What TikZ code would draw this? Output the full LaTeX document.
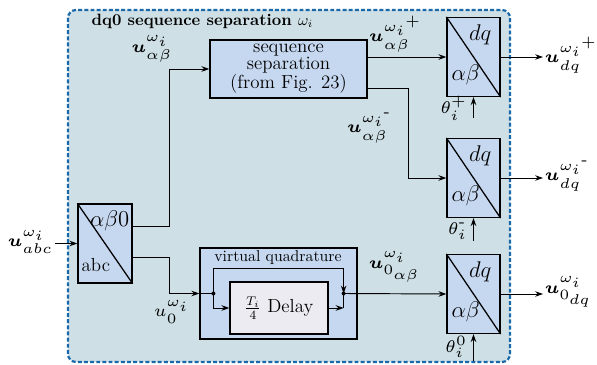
\documentclass[tikz,border=0pt]{standalone}
\usepackage{amsmath}
\usepackage{graphicx}
\usepackage{tikz}
\usepackage{xcolor}
\usetikzlibrary{arrows.meta,calc}
\edef\px{0.0223cm}
\definecolor{framefill}{RGB}{206,224,230}
\definecolor{framedash}{RGB}{25,105,170}
\definecolor{blockfill}{RGB}{198,216,240}
\definecolor{delayfill}{RGB}{236,235,242}
\tikzstyle{block}=[draw,line width=0.8pt,fill=blockfill,inner sep=0pt]
\tikzstyle{sig}=[-{Stealth[length=5pt,width=3.5pt]},line width=0.6pt]
\tikzstyle{corner}=[inner sep=0pt,font=\fontsize{13.5}{15}\selectfont]
\tikzstyle{lbl}=[inner sep=1pt]
% small math blown up, so sub- and superscripts stay large
\newcommand{\sigtxt}[2][1.8]{\scalebox{#1}{\fontsize{6}{7}\selectfont$#2$}}

\begin{document}
\begin{tikzpicture}[x=\px,y=-\px]
		\useasboundingbox (0,0) rectangle (597,365);
		% outer frame
		\draw[framedash,fill=framefill,line width=1.4pt,dash pattern=on 2.5pt off 1.4pt,rounded corners=5pt] (68,10) rectangle (510,362);
		\node[anchor=west,font=\fontsize{10.4}{12}\selectfont\bfseries] (title) at (86,21) {dq0 sequence separation $\omega_i$};

		% clarke block
		\node[block, minimum width=54*\px, minimum height=79*\px] (abc) at (105,243.5) {};
		\draw[line width=0.8pt] (abc.north west) -- (abc.south east);
		\node[corner, anchor=north east] at ($(abc.north east)+(-3,7)$) {$\alpha\beta0$};
		\node[corner, anchor=south west, font=\large] at ($(abc.south west)+(4,-12)$) {abc};

		% sequence separation
		\node[block, minimum width=157*\px, minimum height=58*\px, align=center, font=\fontsize{12}{10.5}\selectfont] (seq) at (288.5,69) {sequence\\separation\\(from Fig. 23)};

		% virtual quadrature with delay
		\node[block, minimum width=157*\px, minimum height=91*\px] (vq) at (278.5,293.5) {};
		\node (vqtext) at (278,258) {virtual quadrature};
		\node[block, fill=delayfill, minimum width=98*\px, minimum height=52*\px, font=\large] (delay) at (279,308) {$\frac{T_i}{4}$ Delay};

		% park blocks
		\foreach \name/\ypos in {dqp/57,dqm/178,dqz/294}{
			\node[block, minimum width=53*\px, minimum height=79*\px] (\name) at (473.5,\ypos) {};
			\draw[line width=0.8pt] (\name.north west) -- (\name.south east);
			\node[corner, anchor=north east] at ($(\name.north east)+(-9,8)$) {$dq$};
			\node[corner, anchor=south west] at ($(\name.south west)+(5,-12)$) {$\alpha\beta$};
		}

		% signal labels
		\node[lbl, anchor=east] (uabc) at (55,242) {\sigtxt{\boldsymbol{u}^{\omega_i}_{abc}}};
		\node[lbl] (uab) at (152,49) {\sigtxt{\boldsymbol{u}^{\omega_i}_{\alpha\beta}}};
		\node[lbl] (uabp) at (396,34) {\sigtxt{\boldsymbol{u}^{{\omega_i}^{+}}_{\alpha\beta}}};
		\node[lbl] (uabm) at (370,128) {\sigtxt{\boldsymbol{u}^{{\omega_i}^{\text{-}}}_{\alpha\beta}}};
		\node[lbl] (uabz) at (395,267) {\sigtxt{\boldsymbol{u}^{\omega_i}_{0_{\alpha\beta}}}};
		\node[lbl] (uz) at (172,312) {\sigtxt{u^{\omega_i}_{0}}};
		\node[lbl, anchor=west] (udqp) at (543,55) {\sigtxt{\boldsymbol{u}^{{\omega_i}^{+}}_{dq}}};
		\node[lbl, anchor=west] (udqm) at (543,176) {\sigtxt{\boldsymbol{u}^{{\omega_i}^{\text{-}}}_{dq}}};
		\node[lbl, anchor=west] (udqz) at (543,292) {\sigtxt{\boldsymbol{u}^{\omega_i}_{0_{dq}}}};
		\node[lbl, anchor=east] (thp) at (469,108) {\sigtxt{\theta_i^+}};
		\node[lbl, anchor=east] (thm) at (469,231) {\sigtxt{\theta_i^{\text{-}}}};
		\node[lbl, anchor=east] (thz) at (469,347) {\sigtxt{\theta_i^0}};

		% connections
		\draw[sig] (uabc.east |- abc.west) -- (abc.west);
		\draw[sig] ($(abc.east)+(0,-17)$) -- ++(37,0) |- (seq.west);
		\draw[sig] ($(abc.east)+(0,14)$) -- ++(37,0) |- (vq.west);
		\coordinate (dotL) at ($(vq.west)+(14,0)$);
		\coordinate (dotR) at ($(vq.east)+(-14,0)$);
		\draw[line width=0.6pt] (vq.west) -- (dotL);
		\draw[sig] (dotL) -- ++(0,-25) -| (dotR);
		\draw[sig] (dotL) |- (delay.west);
		\draw[sig] (delay.east) -- (delay.east -| dotR);
		\draw[line width=0.6pt] (delay.east -| dotR) -- (dotR);
		\fill (dotL) circle (2);
		\fill (dotR) circle (2);
		\draw[sig] (dotR) -- (dqz.west);
		\draw[sig] (seq.east |- dqp.west) -- (dqp.west);
		\draw[sig] ($(seq.east)+(0,19)$) -- ++(41,0) |- (dqm.west);
		\draw[sig] (dqp.east) -- (udqp.west |- dqp.east);
		\draw[sig] (dqm.east) -- (udqm.west |- dqm.east);
		\draw[sig] (dqz.east) -- (udqz.west |- dqz.east);
		\draw[sig] ($(dqp.south)+(0,21)$) -- (dqp.south);
		\draw[sig] ($(dqm.south)+(0,23)$) -- (dqm.south);
		\draw[sig] ($(dqz.south)+(0,27)$) -- (dqz.south);
	\end{tikzpicture}
\end{document}
